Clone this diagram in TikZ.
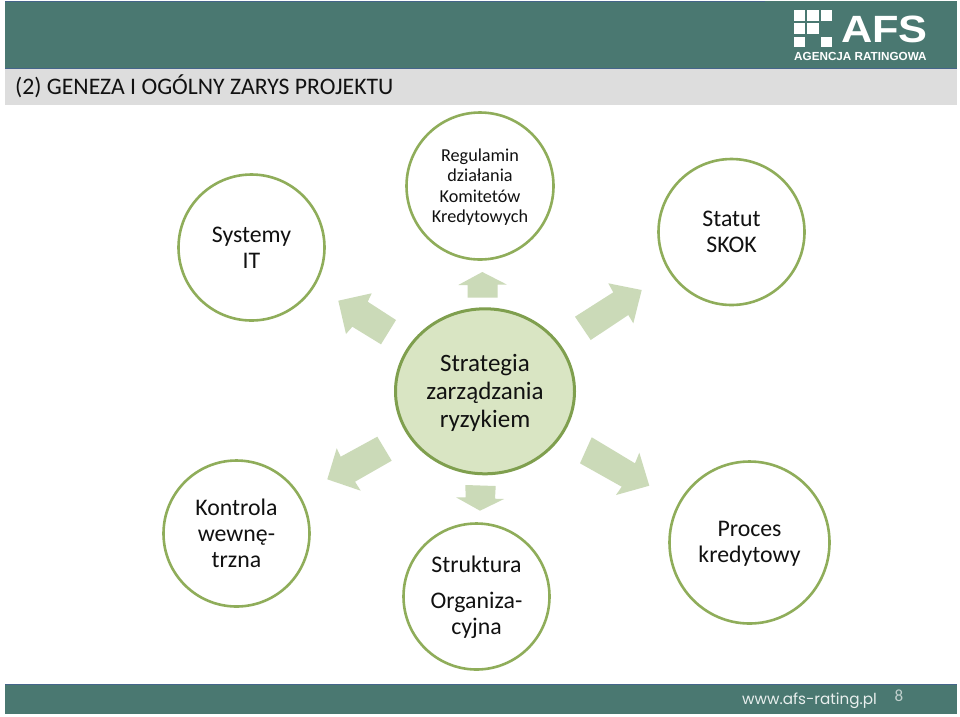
\documentclass[tikz,border=0pt]{standalone}
\usepackage{fontspec}
\setmainfont{Carlito}
\newfontfamily\logofont{Liberation Sans}
\newfontfamily\logowide[FakeStretch=1.14]{Liberation Sans}
\newfontfamily\webfont{Poppins}
\usetikzlibrary{shapes.geometric}
\definecolor{band}{HTML}{4A7871}
\definecolor{bandedge}{HTML}{45658A}
\definecolor{titlebar}{HTML}{DDDDDD}
\definecolor{ringc}{HTML}{8FAD5A}
\definecolor{hubfill}{HTML}{D9E5C3}
\definecolor{hubedge}{HTML}{7F9F4E}
\definecolor{arrowc}{HTML}{CBDAB8}
\definecolor{inkc}{HTML}{111111}
\tikzset{
  ring/.style={ellipse,draw=ringc,line width=2.6pt,fill=white,inner sep=0pt,align=center,text=inkc,font=\fontsize{23.8}{26}\selectfont},
  hub/.style={ellipse,draw=hubedge,line width=3pt,fill=hubfill,inner sep=0pt,align=center,text=inkc,minimum width=179pt,minimum height=165pt,font=\fontsize{25}{28}\selectfont},
  blockarrow/.style={fill=arrowc,draw=none},
  bar/.style={fill=band,draw=none},
  edge/.style={draw=bandedge,line width=1pt},
  squarec/.style={fill=white,draw=none}
}
\begin{document}
\begin{tikzpicture}[x=1pt,y=-1pt]
\useasboundingbox (0,0) rectangle (960,716);
\fill[white] (0,0) rectangle (960,716);
% header
\fill[bar] (5,1) rectangle (957,68);
\draw[edge] (5,1) -- (765,1);
\draw[edge] (5,68) -- (957,68);
\fill[titlebar] (5,69) rectangle (957,105);
\node[anchor=west,inner sep=0pt,text=inkc,font=\fontsize{23.7}{26}\selectfont] (title) at (15,86) {(2) GENEZA I OGÓLNY ZARYS PROJEKTU};
% logo
\fill[squarec] (793.5,10) rectangle (805,20.5);
\fill[squarec] (807,10) rectangle (818.5,20.5);
\fill[squarec] (820.5,10) rectangle (832,20.5);
\fill[squarec] (793.5,23) rectangle (805,34);
\fill[squarec] (807,23) rectangle (818.5,34);
\fill[squarec] (793.5,36.5) rectangle (805,47);
\fill[squarec] (820.5,36.5) rectangle (832,47);
\node[anchor=base west,inner sep=0pt,text=white,font=\logowide\bfseries\fontsize{38}{38}\selectfont] (afs) at (841,42) {AFS};
\node[anchor=base west,inner sep=0pt,text=white,font=\logofont\bfseries\fontsize{11.7}{14}\selectfont] (agency) at (794,60) {AGENCJA RATINGOWA};
% arrows
\fill[blockarrow] (482.3,272) -- (506.7,284.5) -- (497.7,284.5) -- (497.7,297.7) -- (467.7,297.7) -- (467.7,285) -- (458.3,285) -- cycle;
\fill[blockarrow] (641.7,290) -- (633.3,323.3) -- (628.3,315) -- (590.7,340) -- (575,316.7) -- (613.3,292.3) -- (608.3,283.3) -- cycle;
\fill[blockarrow] (338.3,300.7) -- (371.7,293.3) -- (367.7,301.7) -- (396,320) -- (381,344.3) -- (352.3,326.7) -- (346,334) -- cycle;
\fill[blockarrow] (327.3,479.3) -- (336.7,448.3) -- (340.7,456.7) -- (377.3,436.7) -- (391.7,460.7) -- (355,481.7) -- (360.7,490.7) -- cycle;
\fill[blockarrow] (649.3,485.7) -- (616,495) -- (621.7,486.7) -- (580,463.3) -- (591.7,437.3) -- (635,463.3) -- (639.3,452.7) -- cycle;
\fill[blockarrow] (480,510.7) -- (456,497.3) -- (465.7,497.3) -- (465.3,485) -- (495.7,486) -- (495,498.7) -- (504,499) -- cycle;
% circles
\node[hub] (hub) at (485,391.3) {};
\node[align=center,inner sep=0pt,text=inkc,font=\fontsize{25}{28}\selectfont] (hubtext) at (485,392.5) {Strategia\\zarządzania\\ryzykiem};
\node[ring,minimum width=147pt,minimum height=147pt] (regulamin) at (480,186) {};
\node[align=center,inner sep=0pt,text=inkc,font=\fontsize{18.2}{20.5}\selectfont] (regulamintext) at (480,187) {Regulamin\\działania\\Komitetów\\Kredytowych};
\node[ring,minimum width=146pt,minimum height=146pt] (statut) at (731.5,232) {};
\node[align=center,inner sep=0pt,text=inkc,font=\fontsize{23.8}{26.5}\selectfont] (statuttext) at (731.5,232) {Statut\\SKOK};
\node[ring,minimum width=146pt,minimum height=146pt] (systemy) at (251.5,247.5) {Systemy\\IT};
\node[ring,minimum width=146pt,minimum height=146pt] (kontrola) at (236.5,533.5) {Kontrola\\wewnę-\\trzna};
\node[ring,minimum width=146pt,minimum height=146pt] (struktura) at (476.5,596.5) {};
\node[align=center,inner sep=0pt,text=inkc,font=\fontsize{23.8}{26}\selectfont] (strukturatext) at (476.5,597.5) {Struktura\\[10pt]Organiza-\\cyjna};
\node[ring,minimum width=160pt,minimum height=162pt] (proces) at (749.5,542.5) {};
\node[align=center,inner sep=0pt,text=inkc,font=\fontsize{23.8}{26.5}\selectfont] (procestext) at (749.5,544) {Proces\\kredytowy};
% footer
\fill[bar] (5,684) rectangle (957,714);
\draw[edge] (5,684) -- (957,684);
\node[anchor=west,inner sep=0pt,text=white!88!band,font=\webfont\fontsize{15.2}{20}\selectfont] (web) at (742,701) {www.afs-rating.pl};
\node[inner sep=0pt,text=white!65!band,font=\fontsize{17}{20}\selectfont] (page) at (899,696) {8};
\end{tikzpicture}
\end{document}
